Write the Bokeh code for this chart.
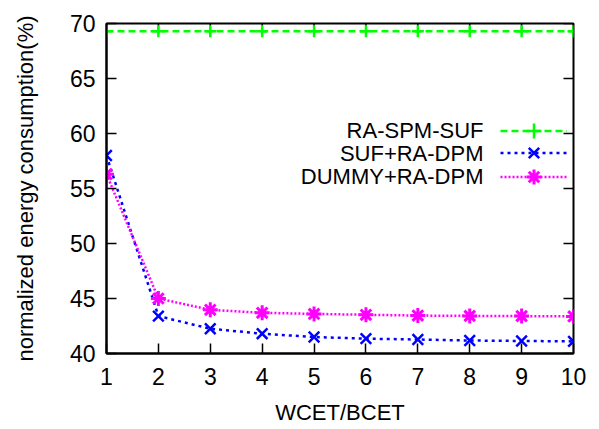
from bokeh.plotting import figure
from bokeh.models import FixedTicker, Legend, LegendItem, Label, Range1d
from bokeh.embed import file_html
from bokeh.resources import INLINE

# ---- data ----
wcet_bcet = [1, 2, 3, 4, 5, 6, 7, 8, 9, 10]
ra_spm_suf = [69.3, 69.3, 69.3, 69.3, 69.3, 69.3, 69.3, 69.3, 69.3, 69.3]
suf_ra_dpm = [58.0, 43.4, 42.25, 41.8, 41.5, 41.35, 41.27, 41.18, 41.14, 41.1]
dummy_ra_dpm = [56.3, 45.0, 43.97, 43.7, 43.6, 43.52, 43.45, 43.42, 43.4, 43.37]
series_names = ["RA-SPM-SUF", "SUF+RA-DPM", "DUMMY+RA-DPM"]
x_ticks = [1, 2, 3, 4, 5, 6, 7, 8, 9, 10]
y_ticks = [40, 45, 50, 55, 60, 65, 70]
x_label = "WCET/BCET"
y_label = "normalized energy consumption(%)"

FONT = "Liberation Sans"
FS = "22px"
TICK_FS = "23px"
GREEN = "#00ff00"
BLUE = "#0000ff"
MAGENTA = "#ff00ff"

W, H = 599, 429
ML, MR, MT, MB = 106, 26, 23, 76
FRAME_W = W - ML - MR
FRAME_H = H - MT - MB
TICK_PX = 10

x0, x1 = x_ticks[0], x_ticks[-1]
y0, y1 = y_ticks[0], y_ticks[-1]

p = figure(width=W, height=H, output_backend="svg", toolbar_location=None,
           x_range=Range1d(x0, x1), y_range=Range1d(y0, y1),
           min_border_left=ML, min_border_right=MR, min_border_top=MT, min_border_bottom=MB)
p.grid.visible = False
p.outline_line_color = "black"
p.outline_line_width = 2
p.background_fill_color = "white"
p.border_fill_color = "white"

for ax, ticks in ((p.xaxis[0], x_ticks), (p.yaxis[0], y_ticks)):
    ax.ticker = FixedTicker(ticks=ticks)
    ax.minor_tick_line_color = None
    ax.major_tick_in = TICK_PX
    ax.major_tick_out = 0
    ax.major_tick_line_width = 1.5
    ax.major_tick_line_color = "black"
    ax.axis_line_color = "black"
    ax.axis_line_width = 2
    ax.major_label_text_font = FONT
    ax.major_label_text_font_size = TICK_FS
    ax.major_label_text_color = "black"
    ax.axis_label_text_font = FONT
    ax.axis_label_text_font_size = FS
    ax.axis_label_text_font_style = "normal"
    ax.axis_label_text_color = "black"

p.xaxis[0].axis_label = x_label
p.yaxis[0].axis_label = y_label
p.xaxis[0].major_label_standoff = 14
p.yaxis[0].major_label_standoff = 11
p.xaxis[0].axis_label_standoff = 12
p.yaxis[0].axis_label_standoff = 29

# mirrored ticks on top and right border (gnuplot style)
dy = TICK_PX * (y1 - y0) / FRAME_H
dx = TICK_PX * (x1 - x0) / FRAME_W
p.segment(x0=x_ticks, y0=[y1] * len(x_ticks), x1=x_ticks, y1=[y1 - dy] * len(x_ticks),
          line_color="black", line_width=1.5)
p.segment(x0=[x1] * len(y_ticks), y0=y_ticks, x1=[x1 - dx] * len(y_ticks), y1=y_ticks,
          line_color="black", line_width=1.5)

# ---- series ----
g_line = p.line(wcet_bcet, ra_spm_suf, line_color=GREEN, line_width=2.5, line_dash="7 4")
g_pts = p.scatter(wcet_bcet, ra_spm_suf, marker="cross", size=12, line_color=GREEN, line_width=2.5)

b_line = p.line(wcet_bcet, suf_ra_dpm, line_color=BLUE, line_width=2.5, line_dash="3 4")
b_pts = p.scatter(wcet_bcet, suf_ra_dpm, marker="x", size=15, line_color=BLUE, line_width=2.5)

m_line = p.line(wcet_bcet, dummy_ra_dpm, line_color=MAGENTA, line_width=2.5, line_dash="2 2")
m_pts = p.scatter(wcet_bcet, dummy_ra_dpm, marker="asterisk", size=15, line_color=MAGENTA, line_width=3)

# ---- legend: gnuplot style, text on the left and sample on the right ----
# one small legend per entry (tall glyph box so markers keep their plotted size)
LEG_X = 394
ROW_BOTTOMS = [204.5, 182.0, 158.5]
LABEL_Y = [223.0, 200.5, 177.0]
for name, rends, yb, yl in zip(series_names,
                               [[g_line, g_pts], [b_line, b_pts], [m_line, m_pts]],
                               ROW_BOTTOMS, LABEL_Y):
    leg = Legend(items=[LegendItem(label=" ", renderers=rends)],
                 location=(LEG_X, yb), glyph_width=67, glyph_height=37, label_height=37,
                 spacing=0, padding=0, margin=0, label_standoff=0,
                 border_line_alpha=0, background_fill_alpha=0, label_text_font_size="1px")
    p.add_layout(leg)
    p.add_layout(Label(x=377, y=yl, x_units="screen", y_units="screen", text=name,
                       text_align="right", text_baseline="middle",
                       text_font=FONT, text_font_size=FS, text_color="black"))

open("out.html", "w").write(file_html(p, INLINE))
